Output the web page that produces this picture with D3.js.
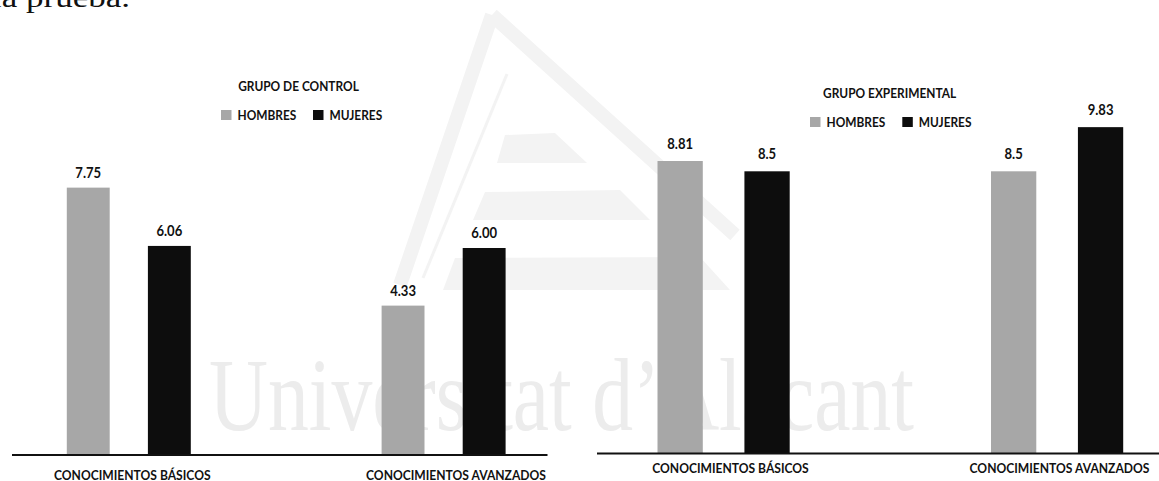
<!DOCTYPE html>
<html>
<head>
<meta charset="utf-8">
<script src="https://cdn.jsdelivr.net/npm/d3@7"></script>
<style>
  html, body { margin: 0; padding: 0; background: #fff; }
  svg { display: block; }
  .lbl { font-family: Lato, "Open Sans", sans-serif; font-weight: 700; fill: #111; }
</style>
</head>
<body>
<svg id="chart" width="1159" height="481"></svg>
<script>
// ---------------- DATA ----------------
const categories = ["CONOCIMIENTOS BÁSICOS", "CONOCIMIENTOS AVANZADOS"];
const series = ["HOMBRES", "MUJERES"];
const controlTitle = "GRUPO DE CONTROL";
const controlHombres = [7.75, 4.33];
const controlMujeres = [6.06, 6.00];
const controlLabels = ["7.75", "4.33", "6.06", "6.00"];
const experimentalTitle = "GRUPO EXPERIMENTAL";
const experimentalHombres = [8.81, 8.5];
const experimentalMujeres = [8.5, 9.83];
const experimentalLabels = ["8.81", "8.5", "8.5", "9.83"];
const seriesColors = ["#a7a7a7", "#0d0d0d"];

// ---------------- DRAW ----------------
const svg = d3.select("#chart");

// condense a text horizontally (Calibri-like narrow look)
function squeeze(sel, f) {
  sel.each(function () {
    const w = this.getComputedTextLength();
    d3.select(this).attr("textLength", w * f).attr("lengthAdjust", "spacingAndGlyphs");
  });
}

// page background decoration (document watermark and cut-off text)
const deco = svg.append("g");
const logo = deco.append("g").attr("fill", "#f3f3f3").attr("stroke", "none");
logo.append("path")
  .attr("d", "M492,15 L400,285 M492,15 L735,235")
  .attr("fill", "none").attr("stroke", "#f3f3f3").attr("stroke-width", 14);
logo.append("path")
  .attr("d", "M507,74 L423,278")
  .attr("fill", "none").attr("stroke", "#f3f3f3").attr("stroke-width", 3);
logo.append("polygon").attr("points", "505,135 555,133 587,163 497,163");
logo.append("polygon").attr("points", "485,192 620,190 650,220 473,220");
logo.append("polygon").attr("points", "455,258 700,257 730,290 443,290");
deco.append("text")
  .attr("x", 209).attr("y", 430)
  .attr("font-family", "Liberation Serif, serif")
  .attr("font-size", 103)
  .attr("textLength", 705).attr("lengthAdjust", "spacingAndGlyphs")
  .attr("fill", "#ececec")
  .text("Universitat d’Alacant");
deco.append("text")
  .attr("x", -8).attr("y", 7)
  .attr("font-family", "Liberation Serif, serif")
  .attr("font-size", 27)
  .attr("textLength", 138).attr("lengthAdjust", "spacingAndGlyphs")
  .attr("fill", "#111")
  .text("la prueba.");

function drawChart(cfg) {
  const g = svg.append("g");
  const y = d3.scaleLinear().domain([0, 10]).range([cfg.base, cfg.base - cfg.unit * 10]);
  const x0 = d3.scalePoint().domain(categories).range(cfg.centers);
  const xl = d3.scalePoint().domain(categories).range(cfg.labelCenters);
  const x1 = d3.scaleBand().domain(series).range([-cfg.pair / 2, cfg.pair / 2])
    .paddingInner(cfg.pad).paddingOuter(0);
  const rows = [];
  categories.forEach((c, i) => {
    rows.push({ cat: c, s: series[0], v: cfg.hombres[i], label: cfg.labels[i] });
    rows.push({ cat: c, s: series[1], v: cfg.mujeres[i], label: cfg.labels[i + 2] });
  });
  g.selectAll("rect.bar").data(rows).join("rect")
    .attr("class", "bar")
    .attr("x", d => x0(d.cat) + x1(d.s))
    .attr("width", x1.bandwidth())
    .attr("y", d => y(d.v))
    .attr("height", d => y(0) - y(d.v))
    .attr("fill", d => seriesColors[series.indexOf(d.s)]);
  g.selectAll("text.val").data(rows).join("text")
    .attr("class", "lbl val")
    .attr("x", d => x0(d.cat) + x1(d.s) + x1.bandwidth() / 2)
    .attr("y", d => y(d.v) - cfg.valOff)
    .attr("text-anchor", "middle")
    .attr("font-size", 14.5)
    .text(d => d.label)
    .call(squeeze, 0.9);
  // baseline axis
  const axis = d3.axisBottom(x0).tickSize(0).tickFormat("");
  const ax = g.append("g").attr("transform", `translate(0,${cfg.base})`).call(axis);
  ax.select(".domain").attr("d", `M${cfg.axisX[0]},0H${cfg.axisX[1]}`)
    .attr("stroke", "#111").attr("stroke-width", 2.2);
  g.selectAll("text.cat").data(categories).join("text")
    .attr("class", "lbl cat")
    .attr("x", d => xl(d))
    .attr("y", cfg.catY)
    .attr("text-anchor", "middle")
    .attr("font-size", 12.8)
    .text(d => d)
    .call(squeeze, 0.945);
  // title + legend
  g.append("text").attr("class", "lbl")
    .attr("x", cfg.titleX).attr("y", cfg.titleY)
    .attr("text-anchor", "middle").attr("font-size", 12.8)
    .text(cfg.title)
    .call(squeeze, 0.93);
  const lg = g.append("g").attr("transform", `translate(${cfg.legX},${cfg.legY})`);
  const items = lg.selectAll("g").data(series).join("g")
    .attr("transform", (d, i) => `translate(${i * cfg.legStep},0)`);
  items.append("rect").attr("x", 0).attr("y", -5).attr("width", 10.5).attr("height", 10)
    .attr("fill", (d, i) => seriesColors[i]);
  items.append("text").attr("class", "lbl")
    .attr("x", 16.5).attr("y", 4.5).attr("font-size", 12.5).text(d => d)
    .call(squeeze, 0.95);
}

drawChart({
  title: controlTitle, hombres: controlHombres, mujeres: controlMujeres, labels: controlLabels,
  base: 455, unit: 34.5, centers: [128.8, 443.6], pair: 124, pad: 0.471,
  labelCenters: [132.3, 456], axisX: [12, 547.5], catY: 479.5, valOff: 10,
  titleX: 298.5, titleY: 90.5, legX: 221, legY: 115, legStep: 92
});
drawChart({
  title: experimentalTitle, hombres: experimentalHombres, mujeres: experimentalMujeres, labels: experimentalLabels,
  base: 453.5, unit: 33.2, centers: [723.6, 1057.1], pair: 132.2, pad: 0.479,
  labelCenters: [730.5, 1059.5], axisX: [597, 1159], catY: 472.5, valOff: 12,
  titleX: 889.7, titleY: 97.5, legX: 810, legY: 122, legStep: 92.3
});
</script>
</body>
</html>
